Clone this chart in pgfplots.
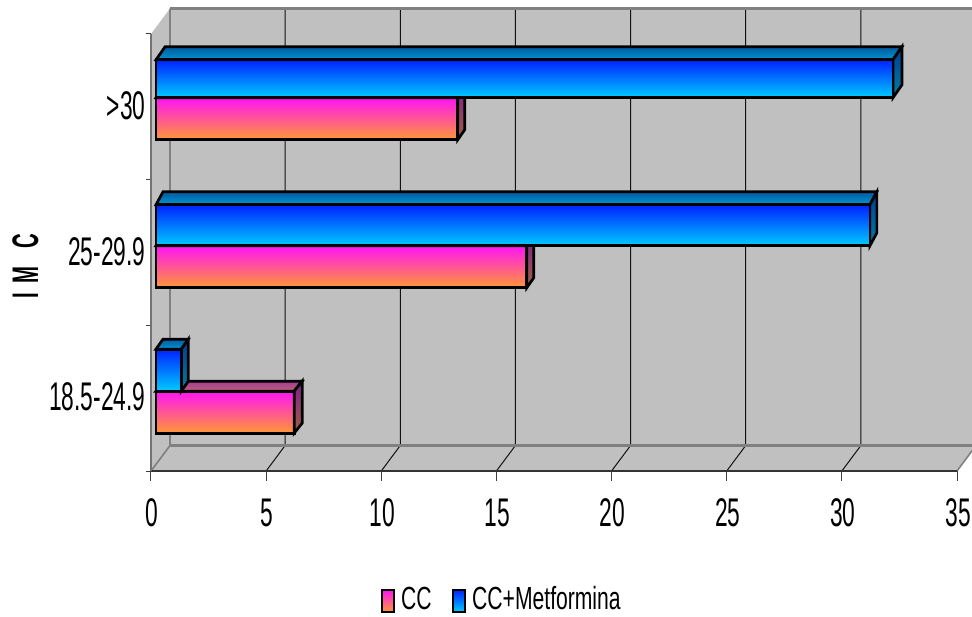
\documentclass[border=0pt]{standalone}
\usepackage{pgfplots}
\pgfplotsset{compat=1.18}
\usepackage{fontspec}
\setmainfont{Liberation Sans}
\newfontfamily\tickfont[FakeStretch=0.57]{Liberation Sans}
\newfontfamily\legfont[FakeStretch=0.66]{Liberation Sans}
\newfontfamily\axisfont[FakeStretch=0.55]{Liberation Sans Bold}

\definecolor{wall}{HTML}{C0C0C0}
\definecolor{edge}{HTML}{808080}
\definecolor{gridc}{HTML}{111111}
\definecolor{ccFrontA}{HTML}{FF14F5}
\definecolor{ccFrontB}{HTML}{FF9933}
\definecolor{ccTopA}{HTML}{A03C92}
\definecolor{ccTopB}{HTML}{C2607A}
\definecolor{ccSideA}{HTML}{80208C}
\definecolor{ccSideB}{HTML}{A06040}
\definecolor{mtFrontA}{HTML}{0022FF}
\definecolor{mtFrontB}{HTML}{00CCFF}
\definecolor{mtTopA}{HTML}{005AA0}
\definecolor{mtTopB}{HTML}{0096D0}
\definecolor{mtSideA}{HTML}{003C96}
\definecolor{mtSideB}{HTML}{007FA0}

\pgfplotsset{
  barface/.style={xshift=5pt,draw=black,line width=2.7pt,line join=miter},
  tickmark/.style={forget plot,draw=black!75,line width=1pt},
}

% Front face of one bar: value, category, bar shift, bar width, colour prefix.
\newcommand\frontbar[5]{%
  \addplot[forget plot,xbar,bar width=#4pt,bar shift=#3pt,barface,
    top color=#5FrontA,bottom color=#5FrontB] coordinates {(#1,#2)};
}
% Depth faces of one bar: value, category, bar shift, bar width,
% depth in x and y, colour prefix.
\newcommand\barfaces[7]{%
  \pgfmathsetmacro\xr{#1}%
  \pgfmathsetmacro\xrb{#1+#5/23.03}%
  \pgfmathsetmacro\xlb{#5/23.03}%
  \pgfmathsetmacro\yt{#2+(#3+#4/2)/145.67}%
  \pgfmathsetmacro\yb{#2+(#3-#4/2)/145.67}%
  \pgfmathsetmacro\ytb{#2+(#3+#4/2+#6)/145.67}%
  \pgfmathsetmacro\ybb{#2+(#3-#4/2+#6)/145.67}%
  \addplot[forget plot,barface,top color=#7TopA,bottom color=#7TopB]
    coordinates {(0,\yt) (\xlb,\ytb) (\xrb,\ytb) (\xr,\yt)} -- cycle;
  \addplot[forget plot,barface,top color=#7SideA,bottom color=#7SideB]
    coordinates {(\xr,\yt) (\xrb,\ytb) (\xrb,\ybb) (\xr,\yb)} -- cycle;
}

\begin{document}
\begin{tikzpicture}[x=1pt,y=1pt]
\path[use as bounding box] (-151,-145) rectangle (821,471);
\begin{axis}[
  at={(0pt,0pt)},anchor=south west,
  scale only axis,width=806pt,height=437pt,
  xmin=0,xmax=35,ymin=-0.5,ymax=2.5,
  clip=false,axis on top,
  axis x line*=bottom,axis y line*=left,
  x axis line style={-,line width=1.3pt,color=black!80},
  y axis line style={-,line width=1.6pt,color=black!55},
  xtick={0,5,...,35},
  ytick={0,1,2},yticklabels={18.5-24.9,25-29.9,>30},
  tickwidth=10pt,
  tick align=outside,
  xtick style={draw=none},
  ytick style={draw=none},
  /pgf/number format/assume math mode=true,
  tick label style={font=\tickfont\fontsize{40}{42}\selectfont},
  xticklabel style={xshift=1pt,yshift=-14pt},
  yticklabel style={xshift=8pt,yshift=1pt},
  ylabel={\axisfont\fontsize{37}{38}\selectfont I\hspace{9pt}M\hspace{18pt}C},
  ylabel style={at={(axis description cs:-0.1557,0.469)},anchor=center},
  legend columns=2,
  legend style={at={(356pt,-118pt)},anchor=center,draw=none,fill=none,
    font=\legfont\fontsize{32}{34}\selectfont,
    /tikz/every odd column/.append style={column sep=4pt},
    /tikz/every even column/.append style={column sep=18pt}},
]
% Walls and floor
\addplot[forget plot,fill=wall,draw=none] coordinates
  {(0,-0.5) (0,2.5) (0.825,2.675) (35.825,2.675) (35.825,-0.325) (35,-0.5)} -- cycle;
% Grid on the back wall and floor
\addplot[forget plot,draw=gridc,line width=1pt] coordinates
  {(5,-0.5) (5.825,-0.325) (5.825,2.675)};
\addplot[forget plot,draw=gridc,line width=1pt] coordinates
  {(10,-0.5) (10.825,-0.325) (10.825,2.675)};
\addplot[forget plot,draw=gridc,line width=1pt] coordinates
  {(15,-0.5) (15.825,-0.325) (15.825,2.675)};
\addplot[forget plot,draw=gridc,line width=1pt] coordinates
  {(20,-0.5) (20.825,-0.325) (20.825,2.675)};
\addplot[forget plot,draw=gridc,line width=1pt] coordinates
  {(25,-0.5) (25.825,-0.325) (25.825,2.675)};
\addplot[forget plot,draw=gridc,line width=1pt] coordinates
  {(30,-0.5) (30.825,-0.325) (30.825,2.675)};
% Wall edges
\addplot[forget plot,draw=edge,line width=3.5pt] coordinates {(0.825,-0.325) (35.825,-0.325)};
\addplot[forget plot,draw=edge,line width=3pt] coordinates {(0.825,2.675) (35.825,2.675)};
\addplot[forget plot,draw=edge,line width=1.6pt] coordinates {(0,-0.5) (0.825,-0.325) (0.825,2.675)};
\addplot[forget plot,draw=edge,line width=1.6pt] coordinates {(35,-0.5) (35.825,-0.325)};

% Tick marks along the front edges
\addplot[tickmark] coordinates {(0,-0.5) (0,-0.5686)};
\addplot[tickmark] coordinates {(5,-0.5) (5,-0.5686)};
\addplot[tickmark] coordinates {(10,-0.5) (10,-0.5686)};
\addplot[tickmark] coordinates {(15,-0.5) (15,-0.5686)};
\addplot[tickmark] coordinates {(20,-0.5) (20,-0.5686)};
\addplot[tickmark] coordinates {(25,-0.5) (25,-0.5686)};
\addplot[tickmark] coordinates {(30,-0.5) (30,-0.5686)};
\addplot[tickmark] coordinates {(35,-0.5) (35,-0.5686)};
\addplot[tickmark] coordinates {(-0.23,-0.5) (0,-0.5)};
\addplot[tickmark] coordinates {(-0.23,0.5) (0,0.5)};
\addplot[tickmark] coordinates {(-0.23,1.5) (0,1.5)};
\addplot[tickmark] coordinates {(-0.23,2.5) (0,2.5)};

% CC: front faces (the first one also supplies the legend entry)
\addplot[xbar,bar width=42pt,bar shift=-14pt,barface,
  top color=ccFrontA,bottom color=ccFrontB,
  legend image code/.code={\draw[black,line width=2.5pt,top color=ccFrontA,bottom color=ccFrontB]
    (0pt,-13pt) rectangle (12pt,9pt);}]
  coordinates {(6,0)};
\addlegendentry{CC}
\frontbar{16.1}{1}{-14.3}{42}{cc}
\frontbar{13.1}{2}{-12}{42}{cc}
% CC: depth faces
\barfaces{6}{0}{-14}{42}{8}{10}{cc}
\barfaces{16.1}{1}{-14.3}{42}{7}{10}{cc}
\barfaces{13.1}{2}{-12}{42}{7}{10}{cc}
% CC+Metformina: depth faces
\barfaces{1.1}{0}{28}{42}{7}{10}{mt}
\barfaces{31}{1}{27.2}{41}{7}{13}{mt}
\barfaces{32}{2}{28}{38}{9}{13}{mt}
% CC+Metformina: front faces
\addplot[xbar,bar width=42pt,bar shift=28pt,barface,
  top color=mtFrontA,bottom color=mtFrontB,
  legend image code/.code={\draw[black,line width=2.5pt,top color=mtFrontA,bottom color=mtFrontB]
    (0pt,-13pt) rectangle (12pt,9pt);}]
  coordinates {(1.1,0)};
\addlegendentry{CC+Metformina}
\frontbar{31}{1}{27.2}{41}{mt}
\frontbar{32}{2}{28}{38}{mt}
\end{axis}
\end{tikzpicture}
\end{document}
